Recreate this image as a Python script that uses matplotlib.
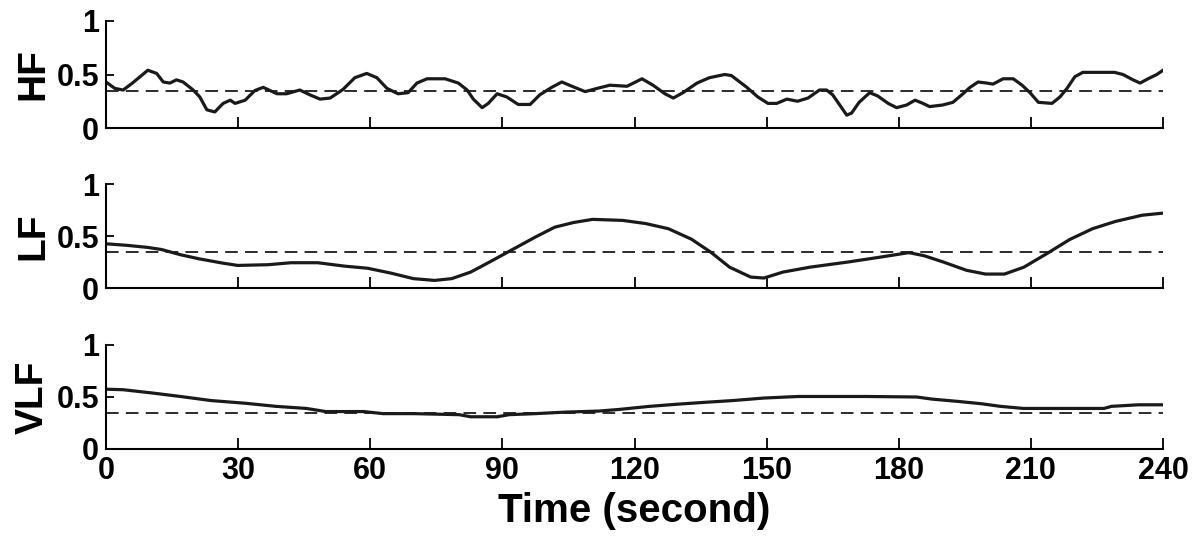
import numpy as np
import matplotlib
matplotlib.use("Agg")
import matplotlib.pyplot as plt

# HF
hf_t = [0, 2, 3.9, 6, 9.5, 11.5, 13, 14.5, 16, 17.5, 19.8, 21.3, 22.9, 24.7, 26.6, 28.2, 29.3,
        31.6, 33.8, 35.7, 38.8, 41, 44, 46.3, 48.6, 50.9, 53.8, 56.5, 59.2, 61.5, 63.8, 66.3,
        68.6, 70.6, 72.9, 77, 80, 82, 83.4, 85.4, 86.8, 88.8, 91, 93.6, 96.3, 98.5, 101.2,
        103.5, 105.8, 108.8, 111.5, 114.4, 118.3, 121.7, 124.2, 126.9, 128.8, 131, 134.2, 137,
        140.5, 142, 145.5, 148, 150.3, 152.3, 154.6, 157, 159.4, 162, 163.6, 165, 166.6, 168.2,
        169.3, 171, 173.4, 175.2, 177.6, 179.5, 181.8, 183.7, 185.5, 187, 190, 192.3, 194.3,
        196.2, 198, 200, 201.4, 203.7, 206, 208, 209.8, 211.7, 214.8, 216.6, 218.2, 220, 221.8,
        229, 230.9, 233.2, 234.8, 236.6, 238.6, 240]
hf_v = [0.43, 0.37, 0.355, 0.42, 0.54, 0.51, 0.43, 0.42, 0.45, 0.43, 0.355, 0.29, 0.17, 0.15,
        0.23, 0.26, 0.23, 0.26, 0.35, 0.38, 0.32, 0.32, 0.355, 0.31, 0.27, 0.28, 0.36, 0.47,
        0.51, 0.47, 0.37, 0.32, 0.33, 0.42, 0.46, 0.46, 0.42, 0.355, 0.27, 0.19, 0.23, 0.32,
        0.29, 0.22, 0.22, 0.31, 0.38, 0.43, 0.39, 0.34, 0.37, 0.40, 0.39, 0.46, 0.40, 0.32,
        0.28, 0.33, 0.42, 0.47, 0.50, 0.49, 0.38, 0.29, 0.23, 0.23, 0.27, 0.25, 0.28, 0.355,
        0.355, 0.31, 0.215, 0.12, 0.14, 0.24, 0.33, 0.30, 0.23, 0.19, 0.215, 0.26, 0.23, 0.20,
        0.215, 0.24, 0.31, 0.38, 0.43, 0.42, 0.41, 0.46, 0.46, 0.40, 0.33, 0.24, 0.23, 0.29,
        0.37, 0.48, 0.52, 0.52, 0.50, 0.45, 0.42, 0.46, 0.50, 0.54]

# LF
lf_t = [0, 4.8, 9.5, 12.6, 16.9, 21.2, 26.4, 29.9, 36.8, 42, 48.1, 54.2, 59.4, 64.6, 69.8,
        74.6, 78.5, 82.8, 87.1, 92.3, 97.5, 101.9, 106.2, 110.5, 117.3, 122.5, 127.7, 132.9,
        137.3, 141.6, 146.4, 149.4, 153.7, 159.8, 168.5, 176.3, 182.3, 185.8, 190.1, 195.4,
        199.7, 204, 208.4, 213.6, 218.8, 224, 229.2, 235.3, 240]
lf_v = [0.425, 0.41, 0.39, 0.37, 0.32, 0.28, 0.24, 0.217, 0.224, 0.243, 0.243, 0.21, 0.19,
        0.144, 0.09, 0.073, 0.09, 0.153, 0.25, 0.37, 0.49, 0.585, 0.63, 0.66, 0.65, 0.62, 0.57,
        0.47, 0.345, 0.20, 0.105, 0.096, 0.153, 0.20, 0.25, 0.30, 0.34, 0.31, 0.25, 0.17,
        0.134, 0.134, 0.20, 0.33, 0.466, 0.57, 0.64, 0.70, 0.72]

# VLF
vlf_t = [0, 3.9, 10.8, 16.9, 23.8, 31.6, 38.6, 45.5, 49.9, 58.5, 62.9, 69.8, 80.2, 82.8, 88.9,
         91.5, 97.5, 104.5, 112, 116.4, 123.4, 129.5, 136.4, 142.4, 149.4, 157.2, 172.8, 184.1,
         187.5, 193.6, 198.8, 203.1, 208.3, 216.2, 226.6, 228.3, 234.4, 240]
vlf_v = [0.575, 0.57, 0.537, 0.505, 0.466, 0.44, 0.41, 0.39, 0.36, 0.36, 0.34, 0.34, 0.33,
         0.31, 0.31, 0.33, 0.34, 0.355, 0.365, 0.38, 0.41, 0.43, 0.45, 0.466, 0.49, 0.505,
         0.505, 0.50, 0.48, 0.457, 0.435, 0.41, 0.39, 0.39, 0.39, 0.41, 0.425, 0.425]

threshold = 0.35
panel_names = ["HF", "LF", "VLF"]
x_ticks = [0, 30, 60, 90, 120, 150, 180, 210, 240]
y_ticks = [0, 0.5, 1]
y_ticklabels = ["0", "0.5", "1"]

fam = ["Liberation Sans Narrow", "Liberation Sans", "DejaVu Sans"]
plt.rcParams["font.family"] = fam
plt.rcParams["font.weight"] = "bold"

fig = plt.figure(figsize=(12, 5.38), dpi=100)

left, width = 106 / 1200, (1163 - 106) / 1200
panels = [(21, 128), (184, 288), (345, 449)]
series = [(hf_t, hf_v), (lf_t, lf_v), (vlf_t, vlf_v)]

for i, ((top, bot), (t, v), name) in enumerate(zip(panels, series, panel_names)):
    ax = fig.add_axes([left, 1 - bot / 538, width, (bot - top) / 538])
    ax.plot(t, v, color="#1a1a1a", lw=2.3, solid_joinstyle="round")
    ax.axhline(threshold, color="#1a1a1a", lw=1.3, dashes=(7, 4))
    ax.set_xlim(0, 240)
    ax.set_ylim(0, 1)
    ax.spines["top"].set_visible(False)
    ax.spines["right"].set_visible(False)
    ax.spines["left"].set_linewidth(1.5)
    ax.spines["bottom"].set_linewidth(1.5)
    ax.set_xticks(x_ticks)
    ax.set_yticks(y_ticks)
    ax.set_yticklabels(y_ticklabels)
    ax.tick_params(direction="in", length=8, width=1.3, labelsize=22, pad=5)
    ax.tick_params(axis="y", length=6, pad=5)
    if i < 2:
        ax.set_xticklabels([])
    ax.set_ylabel(name, fontsize=28, fontweight="bold", labelpad=4)
    for lab in ax.get_xticklabels() + ax.get_yticklabels():
        lab.set_fontweight("bold")

ax.set_xlabel("Time (second)", fontsize=29, fontweight="bold", labelpad=4)

fig.savefig("out.png", dpi=100)
